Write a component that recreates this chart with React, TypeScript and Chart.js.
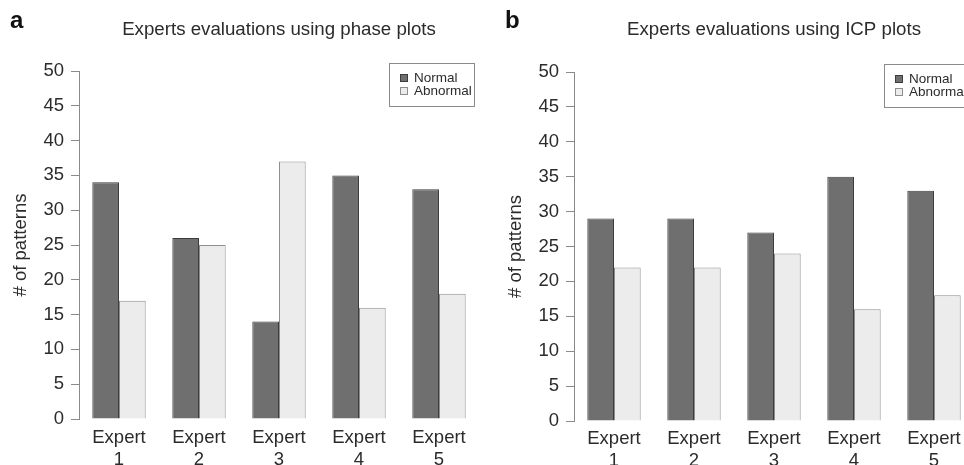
import { useEffect, useRef } from "react";
import { Chart, registerables } from "chart.js";

Chart.register(...registerables);

// Category labels (two lines each) and series names
const categories: string[][] = [
  ["Expert", "1"],
  ["Expert", "2"],
  ["Expert", "3"],
  ["Expert", "4"],
  ["Expert", "5"],
];
const seriesNames = ["Normal", "Abnormal"];

// Panel a: evaluations using phase plots
const phaseNormal = [34, 26, 14, 35, 33];
const phaseAbnormal = [17, 25, 37, 16, 18];

// Panel b: evaluations using ICP plots
const icpNormal = [29, 29, 27, 35, 33];
const icpAbnormal = [22, 22, 24, 16, 18];

const yMin = 0;
const yMax = 50;
const yStep = 5;

const FONT = '"Liberation Sans", Arial, Helvetica, sans-serif';
const DARK_FILL = "#6f6f6f";
const DARK_EDGE = "#3c3c3c";
const LIGHT_FILL = "#ececec";
const LIGHT_EDGE = "#8e8e8e";
const AXIS = "#8a8a8a";
const TEXT = "#2b2b2b";

type PanelProps = {
  letter: string;
  title: string;
  normal: number[];
  abnormal: number[];
  top: number;
  xAxisHeight: number;
  labelGap: number;
};

// Draws the panel letter, the centred title and the boxed legend
const decorations = {
  id: "decorations",
  afterDraw(chart: any, _args: any, opts: any) {
    const { ctx, chartArea } = chart;
    ctx.save();
    // panel letter
    ctx.fillStyle = "#111";
    ctx.font = `bold 24px ${FONT}`;
    ctx.textAlign = "left";
    ctx.textBaseline = "alphabetic";
    ctx.fillText(opts.letter, 10, 28);
    // title
    ctx.fillStyle = TEXT;
    ctx.font = `18.7px ${FONT}`;
    ctx.textAlign = "center";
    ctx.textBaseline = "middle";
    ctx.fillText(opts.title, (chartArea.left + chartArea.right) / 2, 30);
    // legend box
    const bx = chartArea.right - 90;
    const by = chartArea.top - 8;
    const bw = 85;
    const bh = 43;
    ctx.fillStyle = "#fff";
    ctx.fillRect(bx, by, bw, bh);
    ctx.strokeStyle = "#8a8a8a";
    ctx.lineWidth = 1;
    ctx.strokeRect(bx + 0.5, by + 0.5, bw, bh);
    ctx.font = `13.5px ${FONT}`;
    ctx.textAlign = "left";
    ctx.textBaseline = "middle";
    chart.data.datasets.forEach((ds: any, i: number) => {
      const cy = by + 15 + i * 13;
      ctx.fillStyle = ds.backgroundColor;
      ctx.fillRect(bx + 11, cy - 4, 8, 8);
      ctx.strokeStyle = ds.borderColor;
      ctx.strokeRect(bx + 11.5, cy - 3.5, 7, 7);
      ctx.fillStyle = TEXT;
      ctx.fillText(ds.label, bx + 25, cy + 0.5);
    });
    ctx.restore();
  },
};

function Panel({ letter, title, normal, abnormal, top, xAxisHeight, labelGap }: PanelProps) {
  const ref = useRef<HTMLCanvasElement | null>(null);

  useEffect(() => {
    if (!ref.current) return;
    const chart = new Chart(ref.current, {
      type: "bar",
      data: {
        labels: categories,
        datasets: [
          {
            label: seriesNames[0],
            data: normal,
            backgroundColor: DARK_FILL,
            borderColor: DARK_EDGE,
            borderWidth: 1,
          },
          {
            label: seriesNames[1],
            data: abnormal,
            backgroundColor: LIGHT_FILL,
            borderColor: LIGHT_EDGE,
            borderWidth: 1,
          },
        ],
      },
      options: {
        responsive: false,
        animation: false,
        events: [],
        layout: { padding: { top, right: 3, left: 0, bottom: 0 } },
        datasets: {
          bar: { categoryPercentage: 0.667, barPercentage: 1 },
        },
        plugins: {
          legend: { display: false },
          title: { display: false },
          tooltip: { enabled: false },
          decorations: { letter, title },
        } as any,
        scales: {
          x: {
            type: "category",
            offset: true,
            grid: { display: false, drawTicks: false },
            border: { display: false },
            ticks: {
              color: TEXT,
              padding: labelGap,
              maxRotation: 0,
              autoSkip: false,
              font: { family: FONT, size: 18.5, lineHeight: 1.2 },
            },
            afterFit: (scale: any) => {
              scale.height = xAxisHeight;
            },
          },
          y: {
            type: "linear",
            min: yMin,
            max: yMax,
            grid: {
              display: true,
              drawOnChartArea: false,
              drawTicks: true,
              tickLength: 8,
              color: AXIS,
            },
            border: { display: true, color: AXIS, width: 1 },
            ticks: {
              stepSize: yStep,
              color: TEXT,
              padding: 7,
              font: { family: FONT, size: 18.5 },
            },
            title: {
              display: true,
              text: "# of patterns",
              color: TEXT,
              padding: { top: 10, bottom: 0 },
              font: { family: FONT, size: 18.5 },
            },
            afterFit: (scale: any) => {
              scale.width = 79;
            },
          },
        },
      },
      plugins: [decorations],
    });
    return () => chart.destroy();
  }, [letter, title, normal, abnormal, top, xAxisHeight, labelGap]);

  return <canvas ref={ref} width={482} height={465} style={{ display: "block" }} />;
}

export default function App() {
  return (
    <div
      style={{
        position: "fixed",
        left: 0,
        top: 0,
        width: 964,
        height: 465,
        overflow: "hidden",
        background: "#fff",
      }}
    >
      <div style={{ position: "absolute", left: 0, top: 0 }}>
        <Panel
          letter="a"
          title="Experts evaluations using phase plots"
          normal={phaseNormal}
          abnormal={phaseAbnormal}
          top={71}
          xAxisHeight={46}
          labelGap={8}
        />
      </div>
      <div style={{ position: "absolute", left: 495, top: 0 }}>
        <Panel
          letter="b"
          title="Experts evaluations using ICP plots"
          normal={icpNormal}
          abnormal={icpAbnormal}
          top={72}
          xAxisHeight={44}
          labelGap={7}
        />
      </div>
    </div>
  );
}
